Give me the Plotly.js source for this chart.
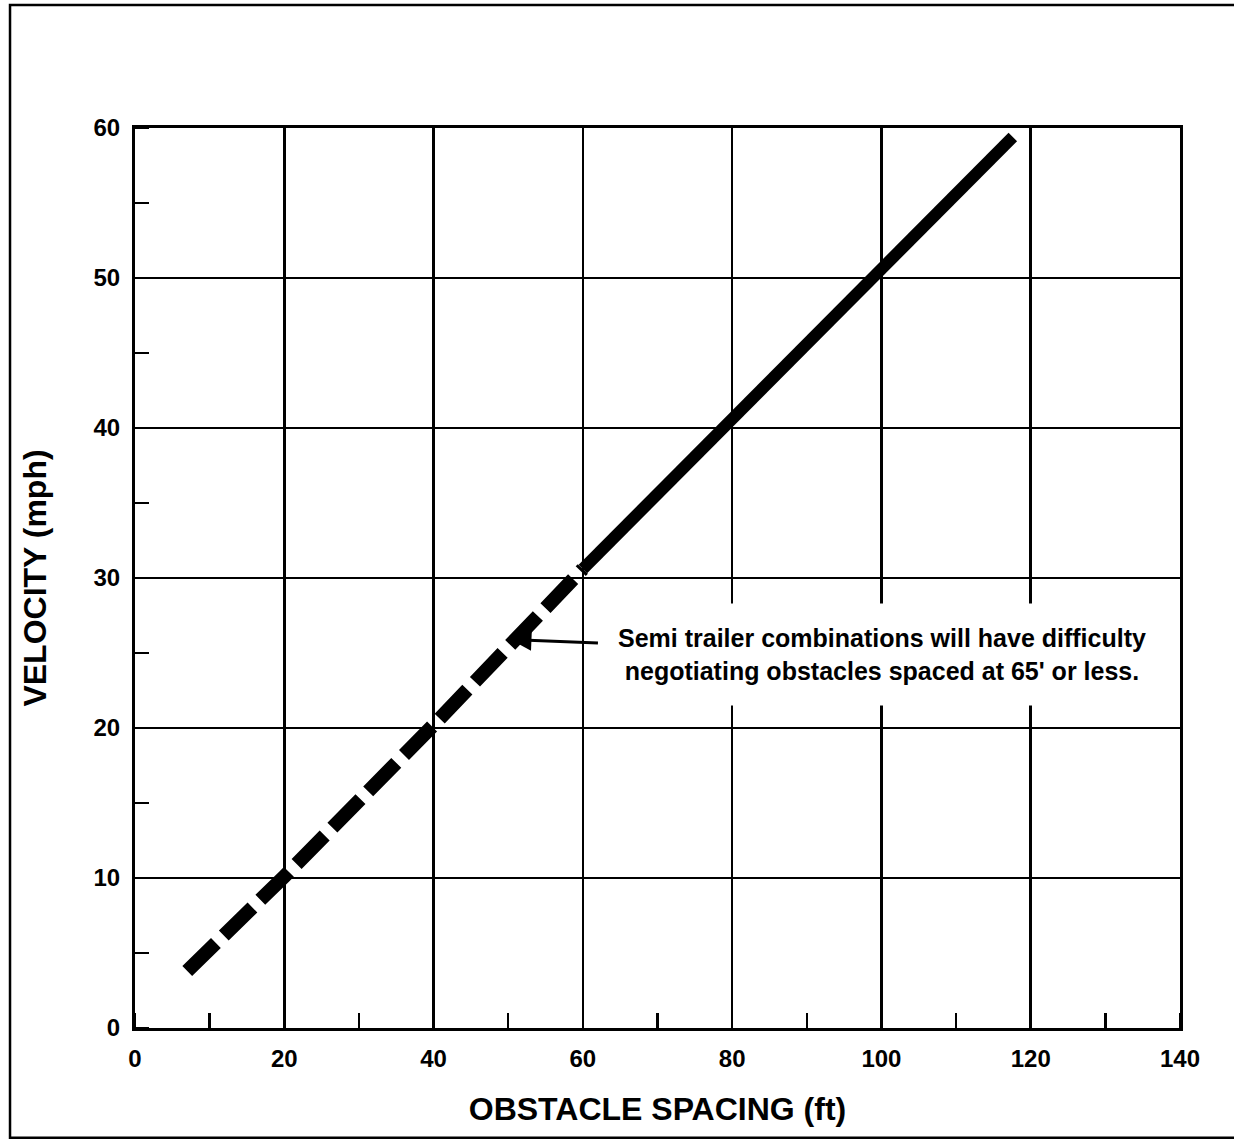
<!DOCTYPE html>
<html>
<head>
<meta charset="utf-8">
<script src="https://cdn.plot.ly/plotly-3.0.1.min.js"></script>
<style>html,body{margin:0;padding:0;background:#fff;}#chart{width:1234px;height:1142px;}</style>
</head>
<body>
<div id="chart"></div>
<script>
// Dashed portion (obstacle spacing <= ~60 ft)
const dashedSpacing = [7, 20, 40, 60];
const dashedVelocity = [3.8, 10.1, 20.2, 30.6];
// Solid portion
const solidSpacing = [60, 80, 100, 117.6];
const solidVelocity = [30.6, 40.6, 50.6, 59.4];
const xTickVals = [0, 20, 40, 60, 80, 100, 120, 140];
const yTickVals = [0, 10, 20, 30, 40, 50, 60];
const noteText = "Semi trailer combinations will have difficulty<br>negotiating obstacles spaced at 65' or less.";
const notePoint = {x: 50.3, y: 25.9};

const FONT = "Arial, 'Liberation Sans', Helvetica, sans-serif";

const traces = [
  {x: dashedSpacing, y: dashedVelocity, mode: 'lines', type: 'scatter',
   line: {color: '#000', width: 14, dash: '40px,11px'}, hoverinfo: 'x+y'},
  {x: solidSpacing, y: solidVelocity, mode: 'lines', type: 'scatter',
   line: {color: '#000', width: 12}, hoverinfo: 'x+y'}
];

const layout = {
  width: 1234, height: 1142,
  margin: {l: 135, r: 54, t: 128, b: 114},
  paper_bgcolor: '#fff', plot_bgcolor: '#fff',
  showlegend: false,
  font: {family: FONT, color: '#000'},
  xaxis: {
    range: [0, 140], tickvals: xTickVals, ticktext: xTickVals.map(String),
    showgrid: true, gridcolor: '#000', gridwidth: 2.5,
    showline: true, mirror: true, linecolor: '#000', linewidth: 3,
    zeroline: false, ticks: '', ticklabelstandoff: 7,
    tickfont: {family: FONT, size: 24, weight: 'bold', color: '#000'},
    minor: {dtick: 10, tick0: 0, ticks: 'inside', ticklen: 15, tickwidth: 2.5, tickcolor: '#000', showgrid: false},
    title: {text: 'OBSTACLE SPACING (ft)', standoff: 27, font: {family: FONT, size: 32, weight: 'bold', color: '#000'}}
  },
  yaxis: {
    range: [0, 60], tickvals: yTickVals, ticktext: yTickVals.map(String),
    showgrid: true, gridcolor: '#000', gridwidth: 2.5,
    showline: true, mirror: true, linecolor: '#000', linewidth: 3,
    zeroline: false, ticks: '', ticklabelstandoff: 7,
    tickfont: {family: FONT, size: 24, weight: 'bold', color: '#000'},
    minor: {dtick: 5, tick0: 0, ticks: 'inside', ticklen: 14, tickwidth: 2.5, tickcolor: '#000', showgrid: false},
    title: {text: 'VELOCITY (mph)', standoff: 38, font: {family: FONT, size: 32, weight: 'bold', color: '#000'}}
  },
  annotations: [{
    x: notePoint.x, y: notePoint.y, xref: 'x', yref: 'y',
    text: noteText, showarrow: true, ax: 372, ay: 15,
    arrowhead: 2, arrowsize: 1.4, arrowwidth: 3, arrowcolor: '#000', standoff: 0,
    bgcolor: '#fff', borderpad: 20, align: 'center',
    font: {family: FONT, size: 25, weight: 'bold', color: '#000'}
  }],
  shapes: [{
    type: 'rect', xref: 'paper', yref: 'paper',
    x0: -0.1196, x1: 1.07, y0: -0.122, y1: 1.1367,
    line: {color: '#000', width: 2.5}, fillcolor: 'rgba(0,0,0,0)', layer: 'below'
  }]
};

Plotly.newPlot('chart', traces, layout, {displayModeBar: false, staticPlot: true});
</script>
</body>
</html>
